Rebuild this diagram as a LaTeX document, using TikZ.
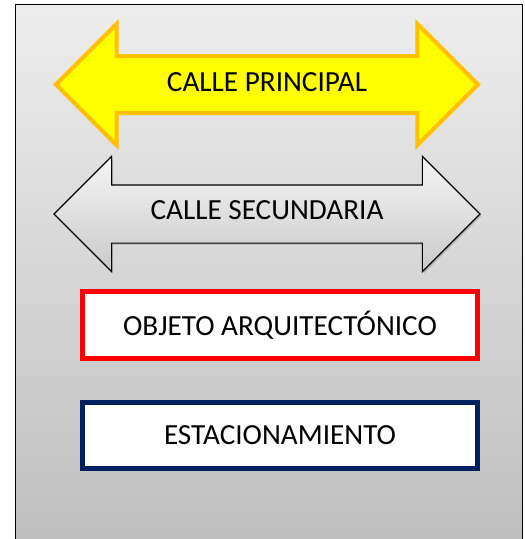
\documentclass[tikz,border=0pt]{standalone}
\usepackage{fontspec}
\setmainfont{Carlito}
\usetikzlibrary{shapes.arrows, positioning, shadows}
\definecolor{calleyellow}{HTML}{FFFF00}
\definecolor{calleorange}{HTML}{FFC000}
\definecolor{objetored}{HTML}{FF0000}
\definecolor{estacnavy}{HTML}{002060}

\begin{document}
\begin{tikzpicture}[x=1pt, y=-1pt, node distance=110.5pt, font=\fontsize{29.2}{35}\selectfont]
\tikzstyle{calle} = [double arrow, double arrow tip angle=90, inner xsep=0pt, inner ysep=0pt, text centered]
\tikzstyle{caja} = [rectangle, minimum width=395.5pt, minimum height=66.5pt, line width=5pt, fill=white, text centered]

\clip (0,0) rectangle (525,539);
% fondo
\draw[line width=1.5pt, top color=gray!14, bottom color=gray!50] (15.5,4.5) rectangle (522.5,541);

\node (principal) [calle, draw=calleorange, line width=4pt, fill=calleyellow, minimum height=422pt, minimum width=117pt, double arrow head extend=32pt, text height=33.7pt, text depth=19.3pt] at (267,84.5) {CALLE PRINCIPAL};
\node (secundaria) [calle, draw=black, line width=1.2pt, top color=gray!8, bottom color=gray!42, drop shadow={shadow xshift=1.5pt, shadow yshift=-1.5pt, fill=black!45}, minimum height=426pt, minimum width=114pt, double arrow head extend=28.5pt, text height=33.7pt, text depth=23.3pt] at (267,214) {CALLE SECUNDARIA};

\node (objeto) [caja, draw=objetored] at (280,325) {OBJETO ARQUITECTÓNICO};
\node (estacionamiento) [caja, draw=estacnavy, below of=objeto] {ESTACIONAMIENTO};

\end{tikzpicture}
\end{document}
